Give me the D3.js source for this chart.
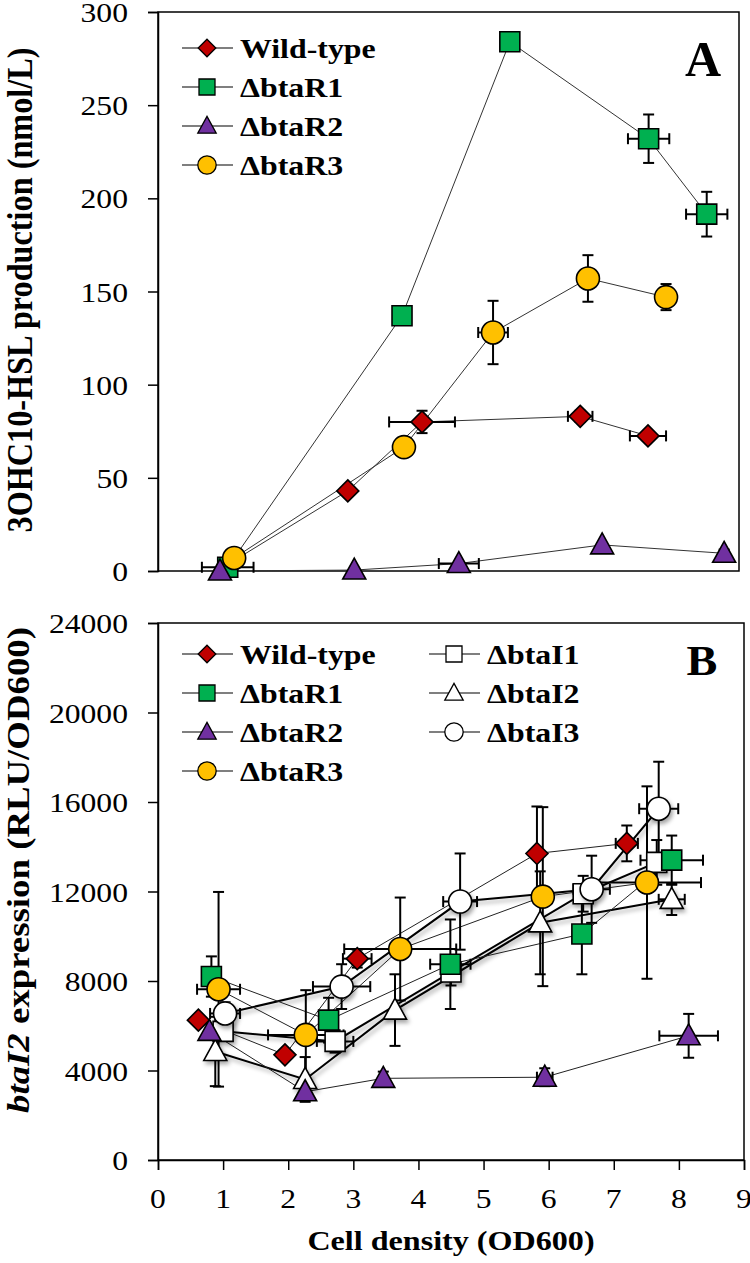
<!DOCTYPE html>
<html><head><meta charset="utf-8">
<script src="https://cdn.jsdelivr.net/npm/d3@7"></script>
<style>body{margin:0;background:#fff} svg{display:block}</style>
</head><body>
<script>
// ---------- DATA ----------
const seriesNamesR = ["Wild-type", "\u0394btaR1", "\u0394btaR2", "\u0394btaR3"];
const seriesNamesI = ["\u0394btaI1", "\u0394btaI2", "\u0394btaI3"];
const xTicksB = [0,1,2,3,4,5,6,7,8,9];
const yTicksA = [0,50,100,150,200,250,300];
const yTicksB = [0,4000,8000,12000,16000,20000,24000];

// Panel A: 3OHC10-HSL production (nmol/L)
const wtA_x  = [1.15, 2.94, 4.09, 6.54, 7.59];
const wtA_y  = [5, 43, 80, 83, 72.5];
const wtA_xe = [0, 0, 0.51, 0.19, 0.28];
const wtA_ye = [0, 2, 6, 3, 2];
const r1A_x  = [1.08, 3.78, 5.45, 7.6, 8.5];
const r1A_y  = [2, 137, 284, 232, 191.5];
const r1A_xe = [0.4, 0, 0, 0.32, 0.32];
const r1A_ye = [0, 3, 0, 13, 12];
const r2A_x  = [0.96, 3.04, 4.66, 6.88, 8.77];
const r2A_y  = [0, 0.5, 4, 14, 9.5];
const r2A_xe = [0, 0, 0.31, 0, 0];
const r2A_ye = [0, 0, 0, 1, 2];
const r3A_x  = [1.18, 3.81, 5.19, 6.66, 7.87];
const r3A_y  = [7, 66.5, 128, 157, 147];
const r3A_xe = [0, 0, 0.23, 0, 0];
const r3A_ye = [0, 0, 17, 12.5, 7];

// Panel B: btaI2 expression (RLU/OD600)
const wtB_x  = [0.62, 1.95, 3.06, 5.82, 7.2];
const wtB_y  = [6250, 4700, 9000, 13700, 14150];
const wtB_xe = [0, 0, 0.22, 0, 0.17];
const wtB_ye = [0, 0, 400, 2100, 800];
const r1B_x  = [0.82, 2.62, 4.49, 6.51, 7.89];
const r1B_y  = [8200, 6250, 8750, 10100, 13400];
const r1B_xe = [0, 0, 0.31, 0, 0.48];
const r1B_ye = [900, 1000, 2000, 1800, 1100];
const r2B_x  = [0.79, 2.26, 3.46, 5.94, 8.15];
const r2B_y  = [5750, 3050, 3650, 3700, 5550];
const r2B_xe = [0, 0, 0, 0.12, 0.45];
const r2B_ye = [0, 0, 300, 400, 980];
const r3B_x  = [0.93, 2.27, 3.72, 5.91, 7.51];
const r3B_y  = [7630, 5590, 9430, 11770, 12400];
const r3B_xe = [0.33, 0.58, 0.86, 0, 0.83];
const r3B_ye = [4350, 2000, 2300, 4000, 4300];
const i1B_x  = [1.0, 2.72, 4.5, 6.53, 7.66];
const i1B_y  = [5750, 5300, 8400, 11900, 13300];
const i1B_xe = [0, 0.28, 0, 0, 0];
const i1B_ye = [0, 500, 600, 800, 1000];
const i2B_x  = [0.88, 2.26, 3.64, 5.87, 7.89];
const i2B_y  = [4850, 3600, 6700, 10600, 11650];
const i2B_xe = [0, 0, 0, 0, 0.2];
const i2B_ye = [1550, 1000, 1600, 2300, 700];
const i3B_x  = [1.03, 2.82, 4.64, 6.66, 7.69];
const i3B_y  = [6550, 7750, 11550, 12100, 15700];
const i3B_xe = [0.23, 0.44, 0.26, 0.28, 0.3];
const i3B_ye = [500, 1000, 2150, 1500, 2100];

// ---------- STYLE ----------
const W = 750, H = 1263;
const FONT = "'Liberation Serif','Times New Roman',serif";
const C = {wt:"#C00000", r1:"#00B050", r2:"#7030A0", r3:"#FFC000", white:"#FFFFFF"};

const svg = d3.select("body").append("svg").attr("width", W).attr("height", H)
  .style("font-family", FONT);
const defs = svg.append("defs");
const f = defs.append("filter").attr("id","shadow").attr("x","-50%").attr("y","-50%").attr("width","200%").attr("height","200%");
f.append("feDropShadow").attr("dx",2).attr("dy",3).attr("stdDeviation",2).attr("flood-color","#000").attr("flood-opacity",0.35);

function zip(xs, ys, xe, ye){ return xs.map((x,i)=>({x, y:ys[i], xe:xe[i], ye:ye[i]})); }

const shapes = {
  diamond: s => `M0,${-11*s}L${11*s},0L0,${11*s}L${-11*s},0Z`,
  square:  s => `M${-10*s},${-10*s}H${10*s}V${10*s}H${-10*s}Z`,
  triangle:s => `M0,${-12*s}L${11.5*s},${9*s}L${-11.5*s},${9*s}Z`,
  circle:  s => { const r=11.5*s; return `M${r},0A${r},${r} 0 1,1 ${-r},0A${r},${r} 0 1,1 ${r},0Z`; }
};

function txt(parent, x, y, s, o){
  o = Object.assign({size:27, weight:"bold", anchor:"start", sx:1.18, style:"normal"}, o||{});
  return parent.append("text")
    .attr("transform", `translate(${x},${y}) scale(${o.sx},1)`)
    .attr("text-anchor", o.anchor)
    .attr("font-size", o.size).attr("font-weight", o.weight).attr("font-style", o.style)
    .attr("fill", "#000").text(s);
}

function panel(cfg){
  const g = svg.append("g");
  const {x, y} = cfg;
  // frame
  const [x0,x1] = x.range(), [y0,y1] = y.range();
  g.append("rect").attr("x",x0).attr("y",y1).attr("width",x1-x0).attr("height",y0-y1)
    .attr("fill","none").attr("stroke","#000").attr("stroke-width",1.5);
  // y axis
  const ya = g.append("g").attr("transform",`translate(${x0},0)`)
    .call(d3.axisLeft(y).tickValues(cfg.yTicks).tickSize(10).tickFormat(""));
  ya.select(".domain").attr("stroke-width",1.5);
  ya.selectAll(".tick line").attr("stroke-width",1.5);
  cfg.yTicks.forEach(t => txt(g, 128, y(t)+10, String(t), {size:28, weight:"normal", anchor:"end", sx:1.13}));
  if (cfg.xTicks){
    const xa = g.append("g").attr("transform",`translate(0,${y0})`)
      .call(d3.axisBottom(x).tickValues(cfg.xTicks).tickSize(10).tickFormat(""));
    xa.select(".domain").attr("stroke-width",1.5);
    xa.selectAll(".tick line").attr("stroke-width",1.5);
    cfg.xTicks.forEach(t => txt(g, x(t), y0+48, String(t), {size:28, weight:"normal", anchor:"middle", sx:1.13}));
  }
  const line = d3.line().x(d=>x(d.x)).y(d=>y(d.y));
  // lines
  cfg.series.forEach(s => {
    g.append("path").datum(s.data).attr("d", line).attr("fill","none")
      .attr("stroke", s.lineColor).attr("stroke-width", s.lw)
      .attr("filter", s.shadow ? "url(#shadow)" : null);
  });
  // error bars
  const cap = 5.5;
  cfg.series.forEach(s => {
    const eg = g.append("g").attr("stroke","#000").attr("stroke-width",2);
    s.data.forEach(d => {
      if (d.ye > 0){
        const ya_ = y(d.y + d.ye), yb_ = y(d.y - d.ye), cx = x(d.x);
        eg.append("line").attr("x1",cx).attr("x2",cx).attr("y1",ya_).attr("y2",yb_);
        eg.append("line").attr("x1",cx-cap).attr("x2",cx+cap).attr("y1",ya_).attr("y2",ya_);
        eg.append("line").attr("x1",cx-cap).attr("x2",cx+cap).attr("y1",yb_).attr("y2",yb_);
      }
      if (d.xe > 0){
        const xa_ = x(d.x - d.xe), xb_ = x(d.x + d.xe), cy = y(d.y);
        eg.append("line").attr("x1",xa_).attr("x2",xb_).attr("y1",cy).attr("y2",cy);
        eg.append("line").attr("x1",xa_).attr("x2",xa_).attr("y1",cy-cap).attr("y2",cy+cap);
        eg.append("line").attr("x1",xb_).attr("x2",xb_).attr("y1",cy-cap).attr("y2",cy+cap);
      }
    });
  });
  // markers
  cfg.series.forEach(s => {
    g.append("g").attr("filter", s.shadow ? "url(#shadow)" : null)
      .selectAll("path").data(s.data).join("path")
      .attr("transform", d=>`translate(${x(d.x)},${y(d.y)})`)
      .attr("d", shapes[s.shape](1)).attr("fill", s.fill)
      .attr("stroke","#000").attr("stroke-width",1.6);
  });
  // legend
  cfg.legend.forEach(l => {
    const lg = g.append("g");
    lg.append("line").attr("x1",l.x).attr("x2",l.x+51).attr("y1",l.y).attr("y2",l.y)
      .attr("stroke","#000").attr("stroke-width",1.2);
    lg.append("path").attr("transform",`translate(${l.x+25},${l.y})`)
      .attr("d", shapes[l.shape](0.8)).attr("fill", l.fill).attr("stroke","#000").attr("stroke-width",1.3);
    txt(lg, l.x+58, l.y+10, l.name, {size:27, sx:1.18});
  });
  return g;
}

// ---------- PANEL A ----------
const xA = d3.scaleLinear([0,9],[158,739]);
const yA = d3.scaleLinear([0,300],[571,12]);
const gA = panel({
  x:xA, y:yA, yTicks:yTicksA, xTicks:null,
  series:[
    {data:zip(wtA_x,wtA_y,wtA_xe,wtA_ye), shape:"diamond", fill:C.wt, lineColor:"#333", lw:1},
    {data:zip(r1A_x,r1A_y,r1A_xe,r1A_ye), shape:"square", fill:C.r1, lineColor:"#333", lw:1},
    {data:zip(r2A_x,r2A_y,r2A_xe,r2A_ye), shape:"triangle", fill:C.r2, lineColor:"#333", lw:1},
    {data:zip(r3A_x,r3A_y,r3A_xe,r3A_ye), shape:"circle", fill:C.r3, lineColor:"#333", lw:1}
  ],
  legend:[
    {x:182, y:48, shape:"diamond", fill:C.wt, name:seriesNamesR[0]},
    {x:182, y:87, shape:"square", fill:C.r1, name:seriesNamesR[1]},
    {x:182, y:126, shape:"triangle", fill:C.r2, name:seriesNamesR[2]},
    {x:182, y:165, shape:"circle", fill:C.r3, name:seriesNamesR[3]}
  ]
});
txt(gA, 703, 76, "A", {size:50, sx:1, anchor:"middle"});
// y title A
gA.append("text").attr("transform","translate(32,290) rotate(-90) scale(1,1.18)")
  .attr("text-anchor","middle").attr("font-size",31).attr("font-weight","bold")
  .attr("textLength",485).attr("lengthAdjust","spacingAndGlyphs")
  .text("3OHC10-HSL production (nmol/L)");

// ---------- PANEL B ----------
const xB = d3.scaleLinear([0,9],[158,744]);
const yB = d3.scaleLinear([0,24000],[1160,623]);
const gB = panel({
  x:xB, y:yB, yTicks:yTicksB, xTicks:xTicksB,
  series:[
    {data:zip(i1B_x,i1B_y,i1B_xe,i1B_ye), shape:"square", fill:C.white, lineColor:"#000", lw:2, shadow:true},
    {data:zip(i2B_x,i2B_y,i2B_xe,i2B_ye), shape:"triangle", fill:C.white, lineColor:"#000", lw:2, shadow:true},
    {data:zip(i3B_x,i3B_y,i3B_xe,i3B_ye), shape:"circle", fill:C.white, lineColor:"#000", lw:2, shadow:true},
    {data:zip(wtB_x,wtB_y,wtB_xe,wtB_ye), shape:"diamond", fill:C.wt, lineColor:"#222", lw:1},
    {data:zip(r1B_x,r1B_y,r1B_xe,r1B_ye), shape:"square", fill:C.r1, lineColor:"#222", lw:1},
    {data:zip(r2B_x,r2B_y,r2B_xe,r2B_ye), shape:"triangle", fill:C.r2, lineColor:"#222", lw:1},
    {data:zip(r3B_x,r3B_y,r3B_xe,r3B_ye), shape:"circle", fill:C.r3, lineColor:"#222", lw:1}
  ],
  legend:[
    {x:182, y:654, shape:"diamond", fill:C.wt, name:seriesNamesR[0]},
    {x:182, y:693, shape:"square", fill:C.r1, name:seriesNamesR[1]},
    {x:182, y:732, shape:"triangle", fill:C.r2, name:seriesNamesR[2]},
    {x:182, y:771, shape:"circle", fill:C.r3, name:seriesNamesR[3]},
    {x:429, y:654, shape:"square", fill:C.white, name:seriesNamesI[0]},
    {x:429, y:693, shape:"triangle", fill:C.white, name:seriesNamesI[1]},
    {x:429, y:732, shape:"circle", fill:C.white, name:seriesNamesI[2]}
  ]
});
txt(gB, 702, 675, "B", {size:42, sx:1.1, anchor:"middle"});
const tB = gB.append("text").attr("transform","translate(29,870) rotate(-90) scale(1,1.15)")
  .attr("text-anchor","middle").attr("font-size",28).attr("font-weight","bold")
  .attr("textLength",486).attr("lengthAdjust","spacingAndGlyphs");
tB.append("tspan").attr("font-style","italic").text("btaI2");
tB.append("tspan").text(" expression (RLU/OD600)");
// x title
txt(gB, 451, 1250, "Cell density (OD600)", {size:27, sx:1.19, anchor:"middle"});
</script>
</body></html>
